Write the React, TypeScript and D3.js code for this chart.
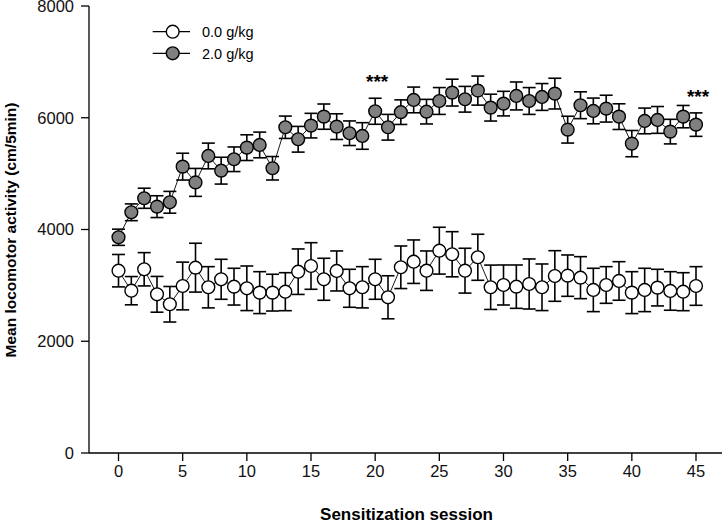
import React from "react";
import * as d3 from "d3";

const sessions: number[] = d3.range(0, 46);

const controlMean: number[] = [
  3263, 2905, 3288, 2840, 2662, 2989, 3317, 2966, 3109, 2977,
  2948, 2870, 2870, 2887, 3245, 3347, 3109, 3258, 2948, 2966,
  3109, 2787, 3324, 3424, 3263, 3621, 3557, 3263, 3503, 2966,
  3007, 2977, 3025, 2966, 3168, 3174, 3138, 2918, 3007, 3079,
  2870, 2918, 2960, 2900, 2887, 2989,
];
const controlSem: number[] = [
  290, 253, 298, 320, 318, 427, 437, 369, 358, 329,
  399, 375, 329, 340, 407, 417, 376, 358, 340, 369,
  358, 385, 381, 389, 353, 419, 404, 401, 412, 397,
  358, 388, 448, 417, 453, 370, 376, 388, 328, 345,
  375, 388, 328, 345, 340, 346,
];

const ethanolMean: number[] = [
  3861, 4308, 4559, 4409, 4487, 5125, 4843, 5316, 5053, 5257,
  5465, 5513, 5096, 5830, 5615, 5859, 6020, 5841, 5723, 5674,
  6116, 5830, 6100, 6319, 6109, 6300, 6450, 6331, 6486, 6181,
  6253, 6390, 6300, 6372, 6432, 5787, 6224, 6122, 6163, 6020,
  5537, 5943, 5961, 5752, 6020, 5877,
];
const ethanolSem: number[] = [
  145, 150, 180, 195, 195, 240, 250, 230, 240, 220,
  230, 230, 210, 200, 230, 220, 226, 230, 220, 238,
  233, 230, 220, 230, 220, 240, 240, 230, 260, 240,
  220, 250, 240, 240, 275, 240, 240, 230, 240, 230,
  235, 230, 240, 220, 200, 210,
];

const seriesLabels: string[] = ["0.0 g/kg", "2.0 g/kg"];
const seriesFills: string[] = ["#ffffff", "#808080"];
const xTicks: number[] = [0, 5, 10, 15, 20, 25, 30, 35, 40, 45];
const yTicks: number[] = [0, 2000, 4000, 6000, 8000];
const significantSessions: number[] = [20, 45];

const FONT = "'Liberation Sans', Arial, sans-serif";

export default function App() {
  const x = d3.scaleLinear().domain([0, 45]).range([118.5, 696]);
  const y = d3.scaleLinear().domain([0, 8000]).range([453, 6]);
  const axisLeftX = 89;
  const axisRightX = 722;
  const r = 6.4;
  const capW = 6.5;

  const series = [
    { mean: controlMean, sem: controlSem, fill: seriesFills[0] },
    { mean: ethanolMean, sem: ethanolSem, fill: seriesFills[1] },
  ];

  const line = d3
    .line<number>()
    .x((_, i) => x(sessions[i]))
    .y((d) => y(d));

  return (
    <svg
      width={725}
      height={522}
      style={{ position: "absolute", left: 0, top: 0, background: "#fff" }}
      fontFamily={FONT}
    >
      <rect width={725} height={522} fill="#fff" />
      {/* axes */}
      <line x1={axisLeftX} x2={axisLeftX} y1={y(8000)} y2={y(0)} stroke="#000" strokeWidth={1.3} />
      <line x1={axisLeftX} x2={axisRightX} y1={y(0)} y2={y(0)} stroke="#000" strokeWidth={1.3} />
      {yTicks.map((t) => (
        <g key={"y" + t}>
          <line x1={axisLeftX - 8} x2={axisLeftX} y1={y(t)} y2={y(t)} stroke="#000" strokeWidth={1.3} />
          <text x={axisLeftX - 15} y={y(t)} dy="0.36em" textAnchor="end" fontSize={16.5} fill="#111">
            {t}
          </text>
        </g>
      ))}
      {xTicks.map((t) => (
        <g key={"x" + t}>
          <line x1={x(t)} x2={x(t)} y1={y(0)} y2={y(0) + 8} stroke="#000" strokeWidth={1.3} />
          <text x={x(t)} y={y(0) + 24} textAnchor="middle" fontSize={16.5} fill="#111">
            {t}
          </text>
        </g>
      ))}
      <text
        x={406.5}
        y={519.5}
        textAnchor="middle"
        fontSize={17}
        fontWeight="bold"
        fill="#000"
      >
        Sensitization session
      </text>
      <text
        transform={`translate(15.5,230) rotate(-90)`}
        textAnchor="middle"
        fontSize={15.5}
        fontWeight="bold"
        fill="#000"
      >
        Mean locomotor activity (cm/5min)
      </text>

      {/* series */}
      {series.map((s, si) => (
        <g key={"s" + si}>
          <path d={line(s.mean) || ""} fill="none" stroke="#000" strokeWidth={0.9} />
          {s.mean.map((m, i) => {
            const cx = x(sessions[i]);
            const top = y(m + s.sem[i]);
            const bot = y(m - s.sem[i]);
            return (
              <g key={"e" + i} stroke="#000" strokeWidth={1.6}>
                <line x1={cx} x2={cx} y1={top} y2={bot} />
                <line x1={cx - capW} x2={cx + capW} y1={top} y2={top} />
                <line x1={cx - capW} x2={cx + capW} y1={bot} y2={bot} />
              </g>
            );
          })}
          {s.mean.map((m, i) => (
            <circle
              key={"c" + i}
              cx={x(sessions[i])}
              cy={y(m)}
              r={r}
              fill={s.fill}
              stroke="#000"
              strokeWidth={1.4}
            />
          ))}
        </g>
      ))}

      {/* significance markers */}
      {significantSessions.map((sIdx, k) => (
        <text
          key={"sig" + k}
          x={x(sIdx) + 2}
          y={y(ethanolMean[sIdx] + ethanolSem[sIdx]) - 10}
          textAnchor="middle"
          fontSize={19}
          fontWeight="bold"
          fill="#000"
        >
          ***
        </text>
      ))}

      {/* legend */}
      {seriesLabels.map((lab, i) => {
        const ly = 31.7 + i * 21.6;
        return (
          <g key={"lg" + i}>
            <line x1={152.7} x2={190} y1={ly} y2={ly} stroke="#000" strokeWidth={1.2} />
            <circle cx={172.7} cy={ly} r={r} fill={seriesFills[i]} stroke="#000" strokeWidth={1.4} />
            <text x={202} y={ly} dy="0.36em" fontSize={14.5} fill="#000">
              {lab}
            </text>
          </g>
        );
      })}
    </svg>
  );
}
